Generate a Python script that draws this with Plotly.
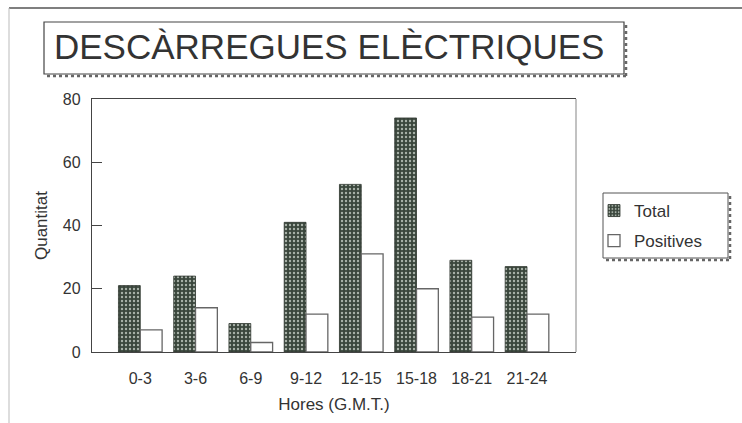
import plotly.graph_objects as go

# ---- data ----
categories = ["0-3", "3-6", "6-9", "9-12", "12-15", "15-18", "18-21", "21-24"]
total = [21, 24, 9, 41, 53, 74, 29, 27]
positives = [7, 14, 3, 12, 31, 20, 11, 12]
series_names = ["Total", "Positives"]
title_text = "DESCÀRREGUES ELÈCTRIQUES"
x_title = "Hores (G.M.T.)"
y_title = "Quantitat"
y_ticks = [0, 20, 40, 60, 80]

# ---- layout geometry (pixels) ----
W, H = 742, 423
PL, PR, PT, PB = 92, 576, 99, 352


def px(x):
    return (x - PL) / (PR - PL)


def py(y):
    return (PB - y) / (PB - PT)


FONT = "Liberation Sans, Arial, sans-serif"
TXT = "#333333"

fig = go.Figure()
fig.add_trace(go.Bar(
    x=categories, y=total, name=series_names[0], legendgroup="a",
    marker=dict(
        color="#3a463c",
        line=dict(color="#2e362f", width=0.8),
        pattern=dict(shape=".", fgcolor="#a9b2a9", bgcolor="#3a463c",
                     size=4, solidity=0.28, fillmode="replace"),
    ),
))
fig.add_trace(go.Bar(
    x=categories, y=positives, name=series_names[1], legendgroup="b",
    marker=dict(color="white", line=dict(color="#666666", width=1.3)),
))

shapes = []
# outer frame (top dark, left light)
shapes.append(dict(type="line", xref="paper", yref="paper",
                   x0=px(9), x1=px(742), y0=py(8), y1=py(8),
                   line=dict(color="#555555", width=1.5)))
shapes.append(dict(type="line", xref="paper", yref="paper",
                   x0=px(9), x1=px(9), y0=py(8), y1=py(423),
                   line=dict(color="#bbbbbb", width=1)))
# title box + dotted shadow
shapes.append(dict(type="line", xref="paper", yref="paper",
                   x0=px(47), x1=px(627), y0=py(76), y1=py(76),
                   line=dict(color="#666666", width=2.5, dash="dot")))
shapes.append(dict(type="line", xref="paper", yref="paper",
                   x0=px(626), x1=px(626), y0=py(25), y1=py(76),
                   line=dict(color="#666666", width=2.5, dash="dot")))
shapes.append(dict(type="rect", xref="paper", yref="paper",
                   x0=px(44), x1=px(624), y0=py(22), y1=py(74),
                   line=dict(color="#444444", width=1.2), fillcolor="white"))
# legend box + dotted shadow
shapes.append(dict(type="line", xref="paper", yref="paper",
                   x0=px(606), x1=px(730), y0=py(260), y1=py(260),
                   line=dict(color="#666666", width=2.5, dash="dot")))
shapes.append(dict(type="line", xref="paper", yref="paper",
                   x0=px(730), x1=px(730), y0=py(196), y1=py(260),
                   line=dict(color="#666666", width=2.5, dash="dot")))
shapes.append(dict(type="rect", xref="paper", yref="paper",
                   x0=px(603), x1=px(728), y0=py(193), y1=py(258),
                   line=dict(color="#555555", width=1), fillcolor="white",
                   layer="below"))
# right plot border (lighter)
shapes.append(dict(type="line", xref="paper", yref="paper",
                   x0=1, x1=1, y0=0, y1=1,
                   line=dict(color="#999999", width=1.2)))

fig.update_layout(
    width=W, height=H,
    margin=dict(l=PL, r=W - PR, t=PT, b=H - PB, autoexpand=False),
    paper_bgcolor="white", plot_bgcolor="white",
    font=dict(family=FONT, color=TXT, size=16),
    barmode="group", bargap=0.21, bargroupgap=0,
    shapes=shapes,
    annotations=[dict(
        text=title_text, xref="paper", yref="paper",
        x=px(329), y=py(46), xanchor="center", yanchor="middle",
        showarrow=False, font=dict(family=FONT, size=35, color="#333333"),
    )],
    showlegend=True,
    legend=dict(
        x=px(594), y=py(193), xanchor="left", yanchor="top",
        bgcolor="rgba(0,0,0,0)", borderwidth=0,
        font=dict(family=FONT, size=17, color=TXT),
        itemwidth=30, traceorder="grouped", tracegroupgap=5,
    ),
    xaxis=dict(
        type="category", range=[-0.874, 7.887],
        showline=True, linecolor="#444444", linewidth=1.3, mirror=True,
        ticks="", showgrid=False, zeroline=False,
        tickfont=dict(size=16, color=TXT), ticklabelstandoff=12,
        title=dict(text=x_title, font=dict(size=17, color=TXT), standoff=11),
        automargin=False,
    ),
    yaxis=dict(
        range=[0, 80], tickvals=y_ticks,
        showline=True, linecolor="#444444", linewidth=1.3,
        ticks="inside", ticklen=10, tickcolor="#444444", tickwidth=1.2,
        showgrid=False, zeroline=False,
        tickfont=dict(size=16, color=TXT), ticklabelstandoff=7,
        title=dict(text=y_title, font=dict(size=17, color=TXT), standoff=10),
        automargin=False,
    ),
)

fig.write_html(
    "out.html",
    config={"displayModeBar": False},
    post_script="document.body.style.margin='0';document.body.style.overflow='hidden';",
)
